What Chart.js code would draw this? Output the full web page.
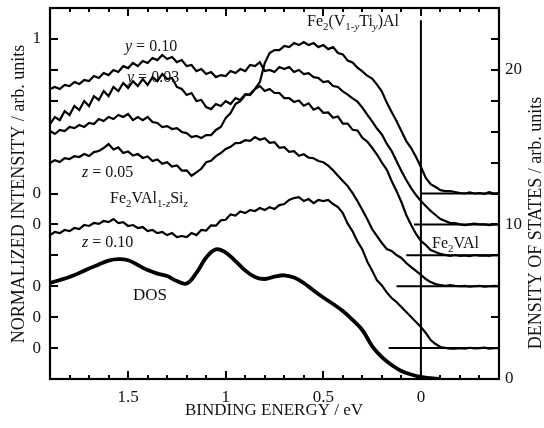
<!DOCTYPE html>
<html>
<head>
<meta charset="utf-8">
<script src="https://cdn.jsdelivr.net/npm/chart.js@4.4.1/dist/chart.umd.min.js"></script>
<style>
    html, body { margin: 0; padding: 0; background: #fff; }
    #chart { display: block; }
</style>
</head>
<body>
<canvas id="chart" width="544" height="428"></canvas>
<script>
const FONT = '"Liberation Serif", "Times New Roman", serif';

// binding energy grid (eV) shared by the photoemission spectra
const energy = [
    1.900, 1.875, 1.850, 1.825, 1.800, 1.775, 1.750, 1.725, 1.700, 1.675,
    1.650, 1.625, 1.600, 1.575, 1.550, 1.525, 1.500, 1.475, 1.450, 1.425,
    1.400, 1.375, 1.350, 1.325, 1.300, 1.275, 1.250, 1.225, 1.200, 1.175,
    1.150, 1.125, 1.100, 1.075, 1.050, 1.025, 1.000, 0.975, 0.950, 0.925,
    0.900, 0.875, 0.850, 0.825, 0.800, 0.775, 0.750, 0.725, 0.700, 0.675,
    0.650, 0.625, 0.600, 0.575, 0.550, 0.525, 0.500, 0.475, 0.450, 0.425,
    0.400, 0.375, 0.350, 0.325, 0.300, 0.275, 0.250, 0.225, 0.200, 0.175,
    0.150, 0.125, 0.100, 0.075, 0.050, 0.025, 0.000, -0.025, -0.050, -0.075,
    -0.100, -0.125, -0.150, -0.175, -0.200, -0.225, -0.250, -0.275, -0.300, -0.325,
    -0.350, -0.375, -0.400
];

// spectra, offset, in density-of-states units (right axis)
const tiY010 = [
    18.76, 18.89, 18.76, 19.02, 18.95, 19.21, 19.08, 19.34, 19.27, 19.60,
    19.47, 19.79, 19.66, 19.99, 19.86, 20.24, 20.11, 20.44, 20.24, 20.57,
    20.44, 20.76, 20.63, 20.96, 20.70, 20.83, 20.50, 20.63, 20.24, 20.31,
    19.92, 20.05, 19.73, 19.86, 19.53, 19.66, 19.60, 19.92, 19.79, 20.05,
    19.92, 20.31, 20.24, 20.50, 19.92, 19.99, 19.86, 20.18, 20.05, 20.18,
    19.86, 19.99, 19.73, 19.79, 19.53, 19.47, 19.21, 19.27, 18.95, 18.89,
    18.60, 18.40, 18.15, 17.94, 17.56, 17.10, 16.66, 16.20, 15.82, 15.22,
    14.75, 14.10, 13.45, 12.87, 12.35, 11.90, 11.51, 11.19, 10.87, 10.61,
    10.35, 10.22, 10.09, 10.09, 10.00, 9.95, 10.00, 10.05, 10.00, 10.00,
    9.95, 10.00, 10.02
];
const tiY003 = [
    16.49, 16.95, 16.75, 17.33, 17.08, 17.66, 17.40, 17.98, 17.66, 18.30,
    18.05, 18.63, 18.30, 18.89, 18.63, 19.15, 18.82, 19.27, 18.95, 19.40,
    19.02, 19.53, 19.27, 19.73, 19.40, 19.47, 18.89, 18.76, 18.37, 18.50,
    17.98, 18.05, 17.59, 17.46, 17.79, 17.66, 17.98, 17.79, 18.17, 18.05,
    18.43, 18.37, 18.76, 18.95, 18.63, 18.76, 18.50, 18.50, 18.17, 18.17,
    17.92, 18.02, 17.68, 17.83, 17.42, 17.56, 17.22, 17.24, 16.90, 16.98,
    16.52, 16.52, 16.12, 16.08, 15.60, 15.36, 14.96, 14.52, 14.00, 13.55,
    12.81, 12.16, 11.45, 10.61, 9.96, 9.38, 8.93, 8.67, 8.34, 8.21,
    8.09, 8.02, 7.96, 8.02, 7.96, 8.00, 7.95, 8.02, 7.98, 8.00,
    7.96, 8.02, 8.00
];
const fe2val = [
    16.04, 15.85, 16.11, 16.04, 16.30, 16.23, 16.43, 16.30, 16.56, 16.49,
    16.82, 16.69, 16.95, 16.82, 17.08, 16.95, 17.14, 16.75, 16.95, 16.75,
    16.95, 16.62, 16.56, 16.30, 16.36, 16.17, 16.23, 15.98, 15.91, 15.65,
    15.72, 15.59, 15.78, 15.78, 16.11, 16.30, 16.88, 17.20, 17.79, 17.98,
    18.37, 18.43, 18.76, 19.21, 20.44, 21.09, 21.28, 21.28, 21.54, 21.47,
    21.73, 21.60, 21.80, 21.60, 21.73, 21.47, 21.60, 21.34, 21.47, 21.09,
    21.00, 20.60, 20.48, 20.14, 19.90, 19.62, 19.44, 19.04, 18.60, 17.88,
    17.27, 16.69, 16.04, 15.39, 14.94, 14.36, 13.71, 13.00, 12.61, 12.42,
    12.22, 12.16, 12.16, 12.10, 12.03, 12.00, 12.08, 12.00, 12.03, 11.98,
    12.08, 12.00, 12.03
];
const siZ005 = [
    13.97, 14.16, 14.04, 14.29, 14.23, 14.42, 14.36, 14.55, 14.42, 14.68,
    14.75, 14.94, 15.20, 14.85, 14.98, 14.62, 14.72, 14.45, 14.55, 14.30,
    14.40, 14.10, 14.20, 13.92, 14.02, 13.74, 13.82, 13.48, 13.50, 13.15,
    13.36, 13.60, 14.02, 14.12, 14.42, 14.62, 14.88, 15.02, 15.26, 15.28,
    15.45, 15.40, 15.65, 15.48, 15.58, 15.28, 15.32, 14.96, 15.00, 14.70,
    14.74, 14.44, 14.54, 14.32, 14.28, 14.10, 14.02, 13.80, 13.50, 13.15,
    12.81, 12.48, 12.03, 11.51, 10.93, 10.35, 9.70, 9.25, 8.80, 8.41,
    8.28, 8.02, 7.83, 7.50, 7.24, 6.99, 6.73, 6.47, 6.27, 6.14,
    6.08, 6.02, 6.08, 6.02, 6.00, 6.02, 5.97, 6.00, 6.03, 5.98,
    6.00, 6.02, 6.00
];
const siZ010 = [
    9.31, 9.51, 9.44, 9.64, 9.57, 9.77, 9.70, 9.96, 9.90, 10.09,
    10.03, 10.22, 10.15, 10.35, 10.09, 10.15, 9.90, 9.96, 9.77, 9.83,
    9.57, 9.64, 9.44, 9.51, 9.31, 9.44, 9.18, 9.25, 9.18, 9.44,
    9.31, 9.64, 9.60, 9.94, 9.92, 10.26, 10.30, 10.65, 10.57, 10.84,
    10.74, 10.93, 10.87, 11.06, 10.93, 11.12, 11.00, 11.25, 11.32, 11.58,
    11.71, 11.77, 11.51, 11.64, 11.38, 11.58, 11.51, 11.58, 11.32, 11.12,
    10.74, 10.05, 9.55, 8.90, 8.38, 7.60, 7.02, 6.38, 6.05, 5.60,
    5.24, 4.98, 4.66, 4.33, 4.01, 3.69, 3.36, 2.98, 2.52, 2.26,
    2.07, 2.01, 1.97, 1.97, 2.00, 1.97, 2.02, 1.98, 2.00, 2.03,
    1.97, 2.00, 2.00
];

// calculated density of states
const dosEnergy = [
    1.90, 1.85, 1.80, 1.75, 1.70, 1.65, 1.60, 1.55, 1.50, 1.45,
    1.40, 1.35, 1.30, 1.25, 1.20, 1.15, 1.10, 1.05, 1.00, 0.95,
    0.90, 0.85, 0.80, 0.75, 0.70, 0.65, 0.60, 0.55, 0.50, 0.45,
    0.40, 0.35, 0.30, 0.25, 0.20, 0.15, 0.10, 0.05, 0.00, -0.05,
    -0.10
];
const dos = [
    6.21, 6.40, 6.60, 6.86, 7.15, 7.41, 7.66, 7.75, 7.68, 7.37,
    7.05, 6.82, 6.66, 6.34, 6.18, 6.86, 7.86, 8.39, 8.18, 7.63,
    7.02, 6.60, 6.47, 6.62, 6.71, 6.56, 6.21, 5.72, 5.27, 4.85,
    4.40, 3.82, 3.17, 2.13, 1.42, 0.91, 0.52, 0.29, 0.13, 0.06,
    0.00
];

// zero lines of the offset spectra and where they start
const baseLevel = [12, 10, 8, 6, 2];
const baseStart = [0.0, 0.035, 0.075, 0.125, 0.165];
const fermiTop = 23.2;

// axis ticks
const xMajor = [1.5, 1, 0.5, 0];
const xMinor = [1.8, 1.7, 1.6, 1.4, 1.3, 1.2, 1.1, 0.9, 0.8, 0.7, 0.6, 0.4, 0.3, 0.2, 0.1, -0.1, -0.2, -0.3];
const leftTicks = [22, 20, 18, 12, 10, 8, 6, 4, 2];
const leftLabels = ['1', '', '', '0', '0', '', '0', '0', '0'];
const rightTicks = [0, 2, 4, 6, 8, 10, 12, 14, 16, 18, 20, 22];
const rightLabels = ['0', '', '', '', '', '10', '', '', '', '', '20', ''];

function toPoints(xs, ys) {
    return xs.map((x, i) => ({ x: x, y: ys[i] }));
}

function spectrum(ys) {
    return {
        data: toPoints(energy, ys),
        borderColor: '#000',
        borderWidth: 2.2,
        pointRadius: 0,
        tension: 0,
        yAxisID: 'y2'
    };
}

const datasets = [
    spectrum(tiY010),
    spectrum(tiY003),
    spectrum(fe2val),
    spectrum(siZ005),
    spectrum(siZ010),
    {
        data: toPoints(dosEnergy, dos),
        borderColor: '#000',
        borderWidth: 3.8,
        pointRadius: 0,
        tension: 0.4,
        yAxisID: 'y2'
    },
    {
        data: [{ x: 0, y: 0 }, { x: 0, y: fermiTop }],
        borderColor: '#000',
        borderWidth: 2,
        pointRadius: 0,
        yAxisID: 'y2'
    }
];
baseLevel.forEach((lvl, i) => {
    datasets.push({
        data: [{ x: baseStart[i], y: lvl }, { x: -0.4, y: lvl }],
        borderColor: '#000',
        borderWidth: 2,
        pointRadius: 0,
        yAxisID: 'y2'
    });
});

function fixSize(prop, size) {
    return function (scale) {
        scale[prop] = size;
        scale.paddingTop = 0;
        scale.paddingBottom = 0;
        scale.paddingLeft = 0;
        scale.paddingRight = 0;
    };
}

// rich text with sub-scripts and italics
function drawRich(ctx, x, y, parts, size) {
    let cx = x;
    parts.forEach(p => {
        const sz = p.s ? size * 0.68 : size;
        ctx.font = (p.i ? 'italic ' : '') + sz + 'px ' + FONT;
        ctx.fillText(p.t, cx, p.s ? y + size * 0.28 : y);
        cx += ctx.measureText(p.t).width;
    });
}

const framePlugin = {
    id: 'frame',
    afterDraw(chart) {
        const ctx = chart.ctx;
        const a = chart.chartArea;
        const xs = chart.scales.x;
        const ys = chart.scales.y2;
        ctx.save();
        ctx.strokeStyle = '#000';
        ctx.lineWidth = 2.2;
        ctx.strokeRect(a.left, a.top, a.right - a.left, a.bottom - a.top);

        ctx.lineWidth = 2;
        ctx.beginPath();
        xMajor.forEach(v => {
            const px = Math.round(xs.getPixelForValue(v));
            ctx.moveTo(px, a.bottom); ctx.lineTo(px, a.bottom - 8);
            ctx.moveTo(px, a.top); ctx.lineTo(px, a.top + 8);
        });
        xMinor.forEach(v => {
            const px = Math.round(xs.getPixelForValue(v));
            ctx.moveTo(px, a.bottom); ctx.lineTo(px, a.bottom - 4);
            ctx.moveTo(px, a.top); ctx.lineTo(px, a.top + 4);
        });
        leftTicks.forEach(v => {
            const py = Math.round(ys.getPixelForValue(v));
            ctx.moveTo(a.left, py); ctx.lineTo(a.left + 8, py);
        });
        rightTicks.forEach(v => {
            const py = Math.round(ys.getPixelForValue(v));
            ctx.moveTo(a.right, py); ctx.lineTo(a.right - 8, py);
        });
        ctx.stroke();

        // annotations
        ctx.fillStyle = '#111';
        ctx.textBaseline = 'alphabetic';
        ctx.textAlign = 'left';
        drawRich(ctx, 125, 51, [{ t: 'y', i: 1 }, { t: ' = 0.10' }], 16);
        drawRich(ctx, 127, 82, [{ t: 'y', i: 1 }, { t: ' = 0.03' }], 16);
        drawRich(ctx, 82, 177, [{ t: 'z', i: 1 }, { t: ' = 0.05' }], 16);
        drawRich(ctx, 82, 247, [{ t: 'z', i: 1 }, { t: ' = 0.10' }], 16);
        drawRich(ctx, 110, 203, [{ t: 'Fe' }, { t: '2', s: 1 }, { t: 'VAl' }, { t: '1-', s: 1 }, { t: 'z', s: 1, i: 1 }, { t: 'Si' }, { t: 'z', s: 1, i: 1 }], 16);
        drawRich(ctx, 307, 26, [{ t: 'Fe' }, { t: '2', s: 1 }, { t: '(V' }, { t: '1-', s: 1 }, { t: 'y', s: 1, i: 1 }, { t: 'Ti' }, { t: 'y', s: 1, i: 1 }, { t: ')Al' }], 16);
        drawRich(ctx, 432, 248, [{ t: 'Fe' }, { t: '2', s: 1 }, { t: 'VAl' }], 16);
        drawRich(ctx, 133, 300, [{ t: 'DOS' }], 17);

        // axis titles
        ctx.textAlign = 'center';
        ctx.textBaseline = 'middle';
        ctx.font = '17px ' + FONT;
        ctx.fillText('BINDING ENERGY / eV', 274, 411);
        ctx.font = '18px ' + FONT;
        ctx.save();
        ctx.translate(19, 194);
        ctx.rotate(-Math.PI / 2);
        ctx.fillText('NORMALIZED INTENSITY / arb. units', 0, 0);
        ctx.restore();
        ctx.save();
        ctx.translate(536, 223);
        ctx.rotate(-Math.PI / 2);
        ctx.fillText('DENSITY OF STATES / arb. units', 0, 0);
        ctx.restore();
        ctx.restore();
    }
};

new Chart(document.getElementById('chart'), {
    type: 'line',
    data: { datasets: datasets },
    plugins: [framePlugin],
    options: {
        responsive: false,
        animation: false,
        devicePixelRatio: 1,
        layout: { padding: { top: 8, left: 0, right: 0, bottom: 0 } },
        plugins: { legend: { display: false }, tooltip: { enabled: false } },
        scales: {
            x: {
                type: 'linear',
                reverse: true,
                min: -0.4,
                max: 1.9,
                grid: { display: false, drawTicks: false },
                border: { display: false },
                afterBuildTicks: s => { s.ticks = xMajor.map(v => ({ value: v })); },
                afterFit: fixSize('height', 49),
                ticks: {
                    color: '#111',
                    padding: 8,
                    maxRotation: 0,
                    font: { family: FONT, size: 17 },
                    callback: v => String(v)
                }
            },
            y: {
                type: 'linear',
                position: 'left',
                min: 0,
                max: 24,
                grid: { display: false, drawTicks: false },
                border: { display: false },
                afterBuildTicks: s => { s.ticks = leftTicks.map(v => ({ value: v })); },
                afterFit: fixSize('width', 50),
                ticks: {
                    color: '#111',
                    padding: 9,
                    font: { family: FONT, size: 17 },
                    callback: (v) => leftLabels[leftTicks.indexOf(v)] || ''
                }
            },
            y2: {
                type: 'linear',
                position: 'right',
                min: 0,
                max: 24,
                grid: { display: false, drawTicks: false },
                border: { display: false },
                afterBuildTicks: s => { s.ticks = rightTicks.map(v => ({ value: v })); },
                afterFit: fixSize('width', 45),
                ticks: {
                    color: '#111',
                    padding: 6,
                    font: { family: FONT, size: 17 },
                    callback: (v) => rightLabels[rightTicks.indexOf(v)] || ''
                }
            }
        }
    }
});
</script>
</body>
</html>
